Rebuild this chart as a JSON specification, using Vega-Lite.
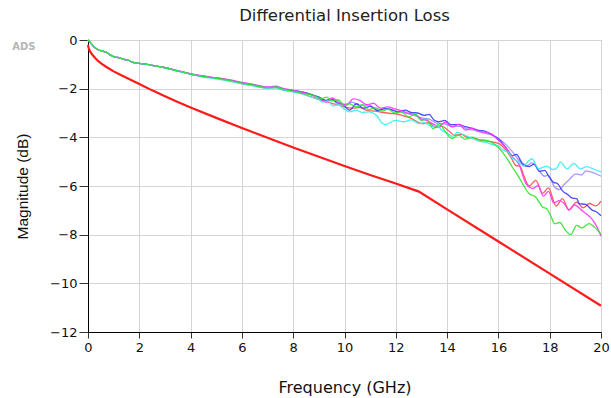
{
"$schema": "https://vega.github.io/schema/vega-lite/v6.json",
"autosize": "none",
"width": 513, "height": 292,
"padding": {"left": 88, "top": 40, "right": 10, "bottom": 66},
"background": "white",
"title": {"text": "Differential Insertion Loss", "fontSize": 16.5, "font": "DejaVu Sans", "fontWeight": "normal", "color": "#222", "offset": 10, "anchor": "middle"},
"config": {"view": {"stroke": "#a0a0a0", "strokeWidth": 1}, "font": "DejaVu Sans"},
"datasets": {
"ir": [
{"s":"r","f":0,"v":0},{"s":"r","f":0.1,"v":-0.12},{"s":"r","f":0.25,"v":-0.3},{"s":"r","f":0.4,"v":-0.4},{"s":"r","f":0.55,"v":-0.45},{"s":"r","f":0.7,"v":-0.5},{"s":"r","f":0.9,"v":-0.63},{"s":"r","f":1.05,"v":-0.7},{"s":"r","f":1.2,"v":-0.72},{"s":"r","f":1.4,"v":-0.8},{"s":"r","f":1.55,"v":-0.82},{"s":"r","f":1.7,"v":-0.9},{"s":"r","f":2.0,"v":-0.96},{"s":"r","f":2.3,"v":-1.0},{"s":"r","f":2.6,"v":-1.06},{"s":"r","f":3.0,"v":-1.14},{"s":"r","f":3.5,"v":-1.27},{"s":"r","f":4.0,"v":-1.4},{"s":"r","f":4.5,"v":-1.5},{"s":"r","f":5.0,"v":-1.58},{"s":"r","f":5.5,"v":-1.67},{"s":"r","f":6.0,"v":-1.79},{"s":"r","f":6.5,"v":-1.88},{"s":"r","f":7.0,"v":-1.98},{"s":"r","f":7.3,"v":-1.96},{"s":"r","f":7.6,"v":-2.05},
{"s":"r","f":8.0,"v":-2.12},{"s":"r","f":8.4,"v":-2.22},{"s":"r","f":8.8,"v":-2.38},{"s":"r","f":9.2,"v":-2.5},{"s":"r","f":9.5,"v":-2.6},{"s":"r","f":9.8,"v":-2.68},{"s":"r","f":10.0,"v":-2.75},{"s":"r","f":10.3,"v":-2.8},{"s":"r","f":10.6,"v":-2.78},{"s":"r","f":10.9,"v":-2.9},{"s":"r","f":11.2,"v":-2.92},{"s":"r","f":11.5,"v":-2.98},{"s":"r","f":11.8,"v":-3.02},{"s":"r","f":12.0,"v":-3.03},{"s":"r","f":12.3,"v":-3.12},{"s":"r","f":12.6,"v":-3.22},{"s":"r","f":13.03,"v":-3.44},{"s":"r","f":13.3,"v":-3.4},{"s":"r","f":13.55,"v":-3.6},{"s":"r","f":13.8,"v":-3.55},{"s":"r","f":14.05,"v":-3.72},{"s":"r","f":14.3,"v":-3.92},{"s":"r","f":14.55,"v":-3.88},{"s":"r","f":14.8,"v":-4.0},{"s":"r","f":15.0,"v":-4.02},{"s":"r","f":15.24,"v":-4.1},{"s":"r","f":15.5,"v":-4.15},{"s":"r","f":15.76,"v":-4.19},{"s":"r","f":16.02,"v":-4.26},{"s":"r","f":16.28,"v":-4.5},{"s":"r","f":16.5,"v":-4.85},{"s":"r","f":16.68,"v":-5.15},{"s":"r","f":16.85,"v":-5.2},{"s":"r","f":17.0,"v":-5.6},{"s":"r","f":17.2,"v":-6.0},{"s":"r","f":17.46,"v":-5.77},{"s":"r","f":17.72,"v":-6.3},{"s":"r","f":17.95,"v":-6.08},{"s":"r","f":18.25,"v":-6.82},{"s":"r","f":18.5,"v":-6.52},{"s":"r","f":18.75,"v":-6.98},{"s":"r","f":19.05,"v":-6.66},{"s":"r","f":19.3,"v":-6.9},{"s":"r","f":19.55,"v":-6.72},{"s":"r","f":19.8,"v":-6.82},{"s":"r","f":20.0,"v":-6.62},

{"s":"p","f":0,"v":0},{"s":"p","f":0.1,"v":-0.12},{"s":"p","f":0.25,"v":-0.3},{"s":"p","f":0.4,"v":-0.4},{"s":"p","f":0.55,"v":-0.45},{"s":"p","f":0.7,"v":-0.5},{"s":"p","f":0.9,"v":-0.63},{"s":"p","f":1.05,"v":-0.7},{"s":"p","f":1.2,"v":-0.72},{"s":"p","f":1.4,"v":-0.8},{"s":"p","f":1.55,"v":-0.82},{"s":"p","f":1.7,"v":-0.9},{"s":"p","f":2.0,"v":-0.96},{"s":"p","f":2.3,"v":-1.0},{"s":"p","f":2.6,"v":-1.06},{"s":"p","f":3.0,"v":-1.14},{"s":"p","f":3.5,"v":-1.27},{"s":"p","f":4.0,"v":-1.4},{"s":"p","f":4.5,"v":-1.49},{"s":"p","f":5.0,"v":-1.56},{"s":"p","f":5.5,"v":-1.65},{"s":"p","f":6.0,"v":-1.76},{"s":"p","f":6.5,"v":-1.85},{"s":"p","f":7.0,"v":-1.95},{"s":"p","f":7.3,"v":-1.93},{"s":"p","f":7.6,"v":-2.02},
{"s":"p","f":8.0,"v":-2.1},{"s":"p","f":8.6,"v":-2.2},{"s":"p","f":9.0,"v":-2.35},{"s":"p","f":9.3,"v":-2.5},{"s":"p","f":9.6,"v":-2.45},{"s":"p","f":10.0,"v":-2.65},{"s":"p","f":10.3,"v":-2.55},{"s":"p","f":10.6,"v":-2.7},{"s":"p","f":10.95,"v":-2.66},{"s":"p","f":11.3,"v":-2.88},{"s":"p","f":11.6,"v":-2.82},{"s":"p","f":12.0,"v":-2.92},{"s":"p","f":12.3,"v":-2.98},{"s":"p","f":12.6,"v":-3.06},{"s":"p","f":13.0,"v":-3.2},{"s":"p","f":13.3,"v":-3.25},{"s":"p","f":13.6,"v":-3.42},{"s":"p","f":13.9,"v":-3.45},{"s":"p","f":14.2,"v":-3.55},{"s":"p","f":14.5,"v":-3.55},{"s":"p","f":14.8,"v":-3.66},{"s":"p","f":15.1,"v":-3.72},{"s":"p","f":15.4,"v":-3.82},{"s":"p","f":15.7,"v":-3.88},{"s":"p","f":16.0,"v":-4.05},{"s":"p","f":16.3,"v":-4.3},{"s":"p","f":16.55,"v":-4.6},{"s":"p","f":16.8,"v":-4.95},{"s":"p","f":17.07,"v":-5.2},{"s":"p","f":17.3,"v":-5.05},{"s":"p","f":17.6,"v":-5.4},{"s":"p","f":17.8,"v":-5.6},{"s":"p","f":17.95,"v":-5.55},{"s":"p","f":18.16,"v":-6.0},{"s":"p","f":18.38,"v":-6.15},{"s":"p","f":18.55,"v":-5.95},{"s":"p","f":18.75,"v":-5.75},{"s":"p","f":19.02,"v":-5.5},{"s":"p","f":19.25,"v":-5.55},{"s":"p","f":19.41,"v":-5.38},{"s":"p","f":19.7,"v":-5.45},{"s":"p","f":20.0,"v":-5.6},

{"s":"b","f":0,"v":0},{"s":"b","f":0.1,"v":-0.12},{"s":"b","f":0.25,"v":-0.3},{"s":"b","f":0.4,"v":-0.4},{"s":"b","f":0.55,"v":-0.45},{"s":"b","f":0.7,"v":-0.5},{"s":"b","f":0.9,"v":-0.63},{"s":"b","f":1.05,"v":-0.7},{"s":"b","f":1.2,"v":-0.72},{"s":"b","f":1.4,"v":-0.8},{"s":"b","f":1.55,"v":-0.82},{"s":"b","f":1.7,"v":-0.9},{"s":"b","f":2.0,"v":-0.96},{"s":"b","f":2.3,"v":-1.0},{"s":"b","f":2.6,"v":-1.06},{"s":"b","f":3.0,"v":-1.14},{"s":"b","f":3.5,"v":-1.27},{"s":"b","f":4.0,"v":-1.4},{"s":"b","f":4.5,"v":-1.5},{"s":"b","f":5.0,"v":-1.57},{"s":"b","f":5.5,"v":-1.66},{"s":"b","f":6.0,"v":-1.77},{"s":"b","f":6.5,"v":-1.86},{"s":"b","f":7.0,"v":-1.96},{"s":"b","f":7.3,"v":-1.93},{"s":"b","f":7.6,"v":-2.02},
{"s":"b","f":8.0,"v":-2.07},{"s":"b","f":8.6,"v":-2.2},{"s":"b","f":9.0,"v":-2.35},{"s":"b","f":9.27,"v":-2.48},{"s":"b","f":9.5,"v":-2.42},{"s":"b","f":9.7,"v":-2.58},{"s":"b","f":9.93,"v":-2.65},{"s":"b","f":10.2,"v":-2.88},{"s":"b","f":10.47,"v":-2.62},{"s":"b","f":10.73,"v":-2.8},{"s":"b","f":11.0,"v":-2.73},{"s":"b","f":11.3,"v":-2.9},{"s":"b","f":11.55,"v":-2.82},{"s":"b","f":11.8,"v":-2.85},{"s":"b","f":12.07,"v":-2.95},{"s":"b","f":12.37,"v":-2.88},{"s":"b","f":12.6,"v":-2.98},{"s":"b","f":12.85,"v":-3.0},{"s":"b","f":13.1,"v":-3.1},{"s":"b","f":13.3,"v":-3.06},{"s":"b","f":13.5,"v":-3.3},{"s":"b","f":13.68,"v":-3.36},{"s":"b","f":13.9,"v":-3.3},{"s":"b","f":14.15,"v":-3.48},{"s":"b","f":14.46,"v":-3.48},{"s":"b","f":14.7,"v":-3.56},{"s":"b","f":14.95,"v":-3.62},{"s":"b","f":15.24,"v":-3.71},{"s":"b","f":15.5,"v":-3.75},{"s":"b","f":15.76,"v":-3.9},{"s":"b","f":16.02,"v":-4.08},{"s":"b","f":16.28,"v":-4.4},{"s":"b","f":16.54,"v":-4.75},{"s":"b","f":16.7,"v":-4.7},{"s":"b","f":16.92,"v":-5.05},{"s":"b","f":17.2,"v":-5.2},{"s":"b","f":17.4,"v":-5.1},{"s":"b","f":17.6,"v":-5.4},{"s":"b","f":17.8,"v":-5.36},{"s":"b","f":17.98,"v":-5.63},{"s":"b","f":18.15,"v":-5.85},{"s":"b","f":18.3,"v":-5.9},{"s":"b","f":18.5,"v":-6.2},{"s":"b","f":18.7,"v":-6.35},{"s":"b","f":18.89,"v":-6.5},{"s":"b","f":19.05,"v":-6.52},{"s":"b","f":19.15,"v":-6.72},{"s":"b","f":19.4,"v":-6.76},{"s":"b","f":19.67,"v":-7.0},{"s":"b","f":19.8,"v":-7.05},{"s":"b","f":20.0,"v":-7.22},

{"s":"m","f":0,"v":0},{"s":"m","f":0.1,"v":-0.12},{"s":"m","f":0.25,"v":-0.3},{"s":"m","f":0.4,"v":-0.4},{"s":"m","f":0.55,"v":-0.45},{"s":"m","f":0.7,"v":-0.5},{"s":"m","f":0.9,"v":-0.63},{"s":"m","f":1.05,"v":-0.7},{"s":"m","f":1.2,"v":-0.72},{"s":"m","f":1.4,"v":-0.8},{"s":"m","f":1.55,"v":-0.82},{"s":"m","f":1.7,"v":-0.9},{"s":"m","f":2.0,"v":-0.96},{"s":"m","f":2.3,"v":-1.0},{"s":"m","f":2.6,"v":-1.06},{"s":"m","f":3.0,"v":-1.14},{"s":"m","f":3.5,"v":-1.26},{"s":"m","f":4.0,"v":-1.38},{"s":"m","f":4.5,"v":-1.48},{"s":"m","f":5.0,"v":-1.55},{"s":"m","f":5.5,"v":-1.63},{"s":"m","f":6.0,"v":-1.74},{"s":"m","f":6.5,"v":-1.83},{"s":"m","f":7.0,"v":-1.93},{"s":"m","f":7.3,"v":-1.9},{"s":"m","f":7.6,"v":-1.99},
{"s":"m","f":8.0,"v":-2.07},{"s":"m","f":8.35,"v":-2.14},{"s":"m","f":8.7,"v":-2.26},{"s":"m","f":9.0,"v":-2.4},{"s":"m","f":9.27,"v":-2.55},{"s":"m","f":9.53,"v":-2.38},{"s":"m","f":9.8,"v":-2.6},{"s":"m","f":10.1,"v":-2.66},{"s":"m","f":10.33,"v":-2.42},{"s":"m","f":10.6,"v":-2.48},{"s":"m","f":10.87,"v":-2.66},{"s":"m","f":11.13,"v":-2.6},{"s":"m","f":11.4,"v":-2.8},{"s":"m","f":11.67,"v":-2.75},{"s":"m","f":11.93,"v":-2.82},{"s":"m","f":12.2,"v":-2.9},{"s":"m","f":12.5,"v":-3.02},{"s":"m","f":12.82,"v":-3.1},{"s":"m","f":13.0,"v":-3.25},{"s":"m","f":13.2,"v":-3.3},{"s":"m","f":13.45,"v":-3.45},{"s":"m","f":13.67,"v":-3.55},{"s":"m","f":13.93,"v":-3.38},{"s":"m","f":14.2,"v":-3.58},{"s":"m","f":14.46,"v":-3.46},{"s":"m","f":14.72,"v":-3.7},{"s":"m","f":14.98,"v":-3.62},{"s":"m","f":15.24,"v":-3.75},{"s":"m","f":15.5,"v":-3.8},{"s":"m","f":15.75,"v":-3.88},{"s":"m","f":16.0,"v":-4.12},{"s":"m","f":16.28,"v":-4.4},{"s":"m","f":16.55,"v":-4.81},{"s":"m","f":16.8,"v":-5.1},{"s":"m","f":17.07,"v":-5.9},{"s":"m","f":17.35,"v":-6.1},{"s":"m","f":17.55,"v":-5.98},{"s":"m","f":17.75,"v":-6.42},{"s":"m","f":17.95,"v":-6.22},{"s":"m","f":18.16,"v":-6.7},{"s":"m","f":18.37,"v":-6.6},{"s":"m","f":18.55,"v":-6.7},{"s":"m","f":18.75,"v":-6.98},{"s":"m","f":18.97,"v":-6.78},{"s":"m","f":19.2,"v":-6.95},{"s":"m","f":19.4,"v":-7.12},{"s":"m","f":19.6,"v":-7.3},{"s":"m","f":19.8,"v":-7.6},{"s":"m","f":20.0,"v":-8.06},

{"s":"c","f":0,"v":0},{"s":"c","f":0.1,"v":-0.12},{"s":"c","f":0.25,"v":-0.3},{"s":"c","f":0.4,"v":-0.4},{"s":"c","f":0.55,"v":-0.45},{"s":"c","f":0.7,"v":-0.5},{"s":"c","f":0.9,"v":-0.63},{"s":"c","f":1.05,"v":-0.7},{"s":"c","f":1.2,"v":-0.72},{"s":"c","f":1.4,"v":-0.8},{"s":"c","f":1.55,"v":-0.82},{"s":"c","f":1.7,"v":-0.9},{"s":"c","f":2.0,"v":-0.96},{"s":"c","f":2.3,"v":-1.0},{"s":"c","f":2.6,"v":-1.06},{"s":"c","f":3.0,"v":-1.15},{"s":"c","f":3.5,"v":-1.28},{"s":"c","f":4.0,"v":-1.41},{"s":"c","f":4.5,"v":-1.52},{"s":"c","f":5.0,"v":-1.6},{"s":"c","f":5.5,"v":-1.69},{"s":"c","f":6.0,"v":-1.8},{"s":"c","f":6.5,"v":-1.89},{"s":"c","f":7.0,"v":-1.99},{"s":"c","f":7.3,"v":-1.97},{"s":"c","f":7.6,"v":-2.06},
{"s":"c","f":8.0,"v":-2.14},{"s":"c","f":8.35,"v":-2.21},{"s":"c","f":8.7,"v":-2.34},{"s":"c","f":9.0,"v":-2.45},{"s":"c","f":9.15,"v":-2.55},{"s":"c","f":9.35,"v":-2.5},{"s":"c","f":9.55,"v":-2.72},{"s":"c","f":9.75,"v":-2.66},{"s":"c","f":10.0,"v":-2.85},{"s":"c","f":10.2,"v":-2.95},{"s":"c","f":10.45,"v":-2.88},{"s":"c","f":10.7,"v":-2.98},{"s":"c","f":10.95,"v":-2.95},{"s":"c","f":11.25,"v":-3.1},{"s":"c","f":11.45,"v":-3.4},{"s":"c","f":11.6,"v":-3.48},{"s":"c","f":11.8,"v":-3.38},{"s":"c","f":12.0,"v":-3.3},{"s":"c","f":12.3,"v":-3.36},{"s":"c","f":12.6,"v":-3.28},{"s":"c","f":12.9,"v":-3.44},{"s":"c","f":13.1,"v":-3.4},{"s":"c","f":13.4,"v":-3.55},{"s":"c","f":13.6,"v":-3.5},{"s":"c","f":13.8,"v":-3.72},{"s":"c","f":14.0,"v":-3.82},{"s":"c","f":14.2,"v":-3.96},{"s":"c","f":14.4,"v":-3.8},{"s":"c","f":14.7,"v":-3.92},{"s":"c","f":15.0,"v":-4.05},{"s":"c","f":15.24,"v":-4.16},{"s":"c","f":15.5,"v":-4.2},{"s":"c","f":15.76,"v":-4.3},{"s":"c","f":16.0,"v":-4.35},{"s":"c","f":16.15,"v":-4.5},{"s":"c","f":16.39,"v":-4.62},{"s":"c","f":16.55,"v":-4.85},{"s":"c","f":16.75,"v":-4.98},{"s":"c","f":16.98,"v":-5.18},{"s":"c","f":17.15,"v":-5.0},{"s":"c","f":17.31,"v":-4.88},{"s":"c","f":17.57,"v":-5.3},{"s":"c","f":17.75,"v":-5.22},{"s":"c","f":17.9,"v":-5.18},{"s":"c","f":18.1,"v":-5.32},{"s":"c","f":18.25,"v":-5.3},{"s":"c","f":18.42,"v":-5.02},{"s":"c","f":18.68,"v":-5.3},{"s":"c","f":18.94,"v":-5.07},{"s":"c","f":19.2,"v":-5.3},{"s":"c","f":19.45,"v":-5.2},{"s":"c","f":19.7,"v":-5.3},{"s":"c","f":20.0,"v":-5.42},

{"s":"g","f":0,"v":0},{"s":"g","f":0.1,"v":-0.12},{"s":"g","f":0.25,"v":-0.3},{"s":"g","f":0.4,"v":-0.4},{"s":"g","f":0.55,"v":-0.45},{"s":"g","f":0.7,"v":-0.5},{"s":"g","f":0.9,"v":-0.63},{"s":"g","f":1.05,"v":-0.7},{"s":"g","f":1.2,"v":-0.72},{"s":"g","f":1.4,"v":-0.8},{"s":"g","f":1.55,"v":-0.82},{"s":"g","f":1.7,"v":-0.9},{"s":"g","f":2.0,"v":-0.96},{"s":"g","f":2.3,"v":-1.0},{"s":"g","f":2.6,"v":-1.06},{"s":"g","f":3.0,"v":-1.14},{"s":"g","f":3.5,"v":-1.27},{"s":"g","f":4.0,"v":-1.4},{"s":"g","f":4.5,"v":-1.5},{"s":"g","f":5.0,"v":-1.57},{"s":"g","f":5.5,"v":-1.66},{"s":"g","f":6.0,"v":-1.77},{"s":"g","f":6.5,"v":-1.86},{"s":"g","f":7.0,"v":-1.96},{"s":"g","f":7.3,"v":-1.93},{"s":"g","f":7.6,"v":-2.02},
{"s":"g","f":8.0,"v":-2.1},{"s":"g","f":8.4,"v":-2.2},{"s":"g","f":8.8,"v":-2.28},{"s":"g","f":9.1,"v":-2.4},{"s":"g","f":9.3,"v":-2.35},{"s":"g","f":9.5,"v":-2.5},{"s":"g","f":9.75,"v":-2.45},{"s":"g","f":10.0,"v":-2.7},{"s":"g","f":10.2,"v":-2.62},{"s":"g","f":10.45,"v":-2.75},{"s":"g","f":10.7,"v":-2.66},{"s":"g","f":10.95,"v":-2.86},{"s":"g","f":11.2,"v":-2.78},{"s":"g","f":11.45,"v":-2.92},{"s":"g","f":11.7,"v":-2.84},{"s":"g","f":11.95,"v":-3.0},{"s":"g","f":12.2,"v":-2.95},{"s":"g","f":12.5,"v":-3.16},{"s":"g","f":12.75,"v":-3.05},{"s":"g","f":13.0,"v":-3.3},{"s":"g","f":13.2,"v":-3.25},{"s":"g","f":13.45,"v":-3.64},{"s":"g","f":13.7,"v":-3.45},{"s":"g","f":13.95,"v":-3.8},{"s":"g","f":14.2,"v":-4.05},{"s":"g","f":14.45,"v":-3.9},{"s":"g","f":14.7,"v":-4.08},{"s":"g","f":14.98,"v":-3.99},{"s":"g","f":15.25,"v":-4.1},{"s":"g","f":15.5,"v":-4.12},{"s":"g","f":15.75,"v":-4.22},{"s":"g","f":15.9,"v":-4.33},{"s":"g","f":16.15,"v":-4.6},{"s":"g","f":16.35,"v":-4.9},{"s":"g","f":16.54,"v":-5.22},{"s":"g","f":16.75,"v":-5.55},{"s":"g","f":16.94,"v":-5.9},{"s":"g","f":17.2,"v":-6.32},{"s":"g","f":17.45,"v":-6.45},{"s":"g","f":17.72,"v":-6.86},{"s":"g","f":17.9,"v":-6.95},{"s":"g","f":18.05,"v":-7.25},{"s":"g","f":18.2,"v":-7.55},{"s":"g","f":18.4,"v":-7.5},{"s":"g","f":18.6,"v":-7.8},{"s":"g","f":18.82,"v":-8.0},{"s":"g","f":19.05,"v":-7.62},{"s":"g","f":19.25,"v":-7.72},{"s":"g","f":19.54,"v":-7.55},{"s":"g","f":19.75,"v":-7.7},{"s":"g","f":20.0,"v":-7.98}
],
"ref": [
{"f":0,"v":-0.2},{"f":0.02,"v":-0.3},{"f":0.05,"v":-0.4},{"f":0.1,"v":-0.5},{"f":0.18,"v":-0.62},{"f":0.28,"v":-0.74},{"f":0.4,"v":-0.87},{"f":0.55,"v":-0.99},{"f":0.75,"v":-1.13},{"f":1.0,"v":-1.29},{"f":1.3,"v":-1.45},{"f":1.6,"v":-1.6},{"f":2.0,"v":-1.81},{"f":2.5,"v":-2.07},{"f":3.0,"v":-2.31},{"f":3.5,"v":-2.55},{"f":4.0,"v":-2.77},{"f":5.0,"v":-3.2},{"f":6.0,"v":-3.62},{"f":7.0,"v":-4.02},{"f":8.0,"v":-4.42},{"f":9.0,"v":-4.8},{"f":10.0,"v":-5.18},{"f":11.0,"v":-5.55},{"f":12.0,"v":-5.9},{"f":12.9,"v":-6.23},{"f":14.0,"v":-6.96},{"f":16.0,"v":-8.28},{"f":18.0,"v":-9.6},{"f":20.0,"v":-10.92}
],
"ads": [{"t":"ADS","f":-2.5,"v":-0.3}]
},
"layer": [
{"data": {"name": "ir"},
 "mark": {"type": "line", "strokeWidth": 1.3, "interpolate": "monotone", "opacity": 0.9},
 "encoding": {
  "x": {"field": "f", "type": "quantitative", "scale": {"domain": [0, 20], "nice": false}, "title": "Frequency (GHz)",
        "axis": {"values": [0,1,2,3,4,5,6,7,8,9,10,11,12,13,14,15,16,17,18,19,20],
                 "labelExpr": "datum.value % 2 === 0 ? datum.label : ''",
                 "gridOpacity": {"condition": {"test": "datum.value % 2 !== 0", "value": 0}, "value": 1},
                 "tickSize": {"condition": {"test": "datum.value % 2 !== 0", "value": 4}, "value": 6},
                 "gridColor": "#d4d4d4", "domainColor": "#000", "tickColor": "#333",
                 "labelFont": "DejaVu Sans", "labelFontSize": 13, "labelColor": "#111", "labelPadding": 3, "labelFlush": false,
                 "titleFont": "DejaVu Sans", "titleFontSize": 16, "titleFontWeight": "normal", "titleColor": "#111", "titlePadding": 25}},
  "y": {"field": "v", "type": "quantitative", "scale": {"domain": [-12, 0], "nice": false}, "title": "Magnitude (dB)",
        "axis": {"values": [-12,-11,-10,-9,-8,-7,-6,-5,-4,-3,-2,-1,0],
                 "labelExpr": "datum.value % 2 === 0 ? datum.label : ''",
                 "gridOpacity": {"condition": {"test": "datum.value % 2 !== 0", "value": 0}, "value": 1},
                 "tickSize": {"condition": {"test": "datum.value % 2 !== 0", "value": 5}, "value": 9},
                 "gridColor": "#d4d4d4", "domainColor": "#000", "tickColor": "#333",
                 "labelFont": "DejaVu Sans", "labelFontSize": 13, "labelColor": "#111", "labelPadding": 2,
                 "titleFont": "Liberation Sans", "titleFontSize": 15.5, "titleFontWeight": "normal", "titleColor": "#111", "titlePadding": 19}},
  "color": {"field": "s", "type": "nominal", "legend": null,
            "scale": {"domain": ["r", "p", "b", "m", "c", "g"], "range": ["#ff4d4d", "#a08cff", "#3a3aff", "#ff33ff", "#33f0f0", "#2ee62e"]}}
 }},
{"data": {"name": "ref"},
 "mark": {"type": "line", "color": "#ff1a1a", "strokeWidth": 2.2},
 "encoding": {"x": {"field": "f", "type": "quantitative"}, "y": {"field": "v", "type": "quantitative"}}},
{"data": {"name": "ads"},
 "mark": {"type": "text", "clip": false, "color": "#b5b5b5", "fontWeight": "bold", "fontSize": 10, "font": "DejaVu Sans"},
 "encoding": {"x": {"field": "f", "type": "quantitative"}, "y": {"field": "v", "type": "quantitative"}, "text": {"field": "t"}}}
]
}
